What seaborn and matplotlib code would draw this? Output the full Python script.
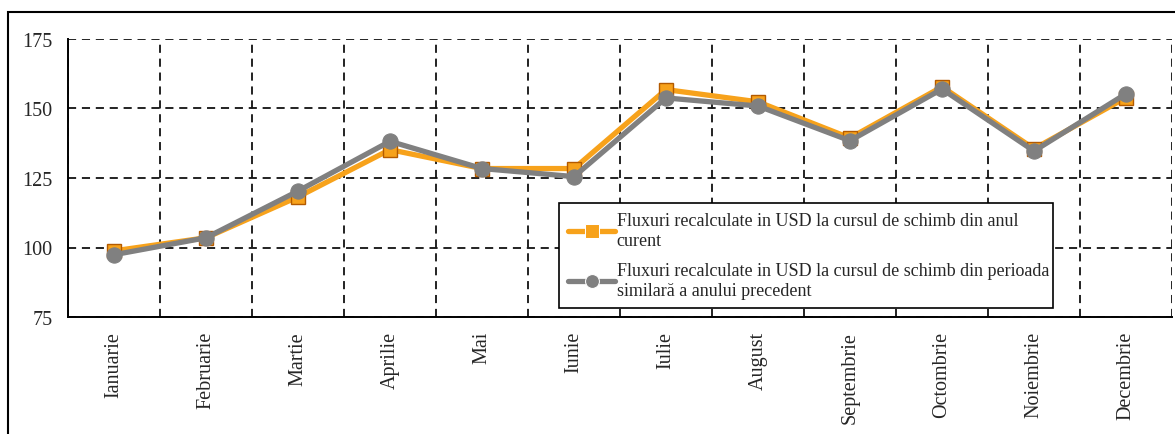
import matplotlib
matplotlib.use("Agg")
import matplotlib.pyplot as plt
import seaborn as sns
import pandas as pd
import numpy as np
from matplotlib.patches import Rectangle

months = ["Ianuarie", "Februarie", "Martie", "Aprilie", "Mai", "Iunie", "Iulie",
          "August", "Septembrie", "Octombrie", "Noiembrie", "Decembrie"]
curent = [98.8, 103.5, 118.2, 135.2, 128.4, 128.4, 156.8, 152.4, 139.4, 157.8, 135.5, 153.9]
precedent = [97.4, 103.5, 120.3, 138.2, 128.4, 125.5, 153.8, 150.9, 138.4, 157.0, 134.7, 155.3]
label_curent = "Fluxuri recalculate in USD la cursul de schimb din anul\ncurent"
label_prec = "Fluxuri recalculate in USD la cursul de schimb din perioada\nsimilară a anului precedent"
yticks = [75, 100, 125, 150, 175]

sns.set_theme(style="white")
plt.rcParams['font.family'] = ['Liberation Serif', 'DejaVu Serif']

df = pd.DataFrame({
    "x": list(range(12)) * 2,
    "v": curent + precedent,
    "s": [label_curent] * 12 + [label_prec] * 12,
})

fig = plt.figure(figsize=(11.75, 4.35), dpi=100)
ax = fig.add_axes([68/1175, 1 - 318/435, 1104/1175, 278/435])

sns.lineplot(data=df, x="x", y="v", hue="s", style="s",
             palette={label_curent: "#F7A21B", label_prec: "#808080"},
             markers={label_curent: "s", label_prec: "o"},
             dashes=False, linewidth=3.8, markersize=10, ax=ax)

lines = ax.get_lines()
lines[0].set_markeredgecolor("#B35A00")
lines[0].set_markeredgewidth(1.0)
lines[0].set_markersize(10)
lines[1].set_markeredgecolor("#808080")
lines[1].set_markersize(11)
lines[1].set_zorder(lines[0].get_zorder() + 1)

ax.set_xlim(-0.5, 11.5)
ax.set_ylim(75, 175)
ax.set_yticks(yticks)
ax.set_yticklabels([str(t) for t in yticks], fontsize=14.5)
ax.set_xticks(range(12))
ax.set_xticklabels(months, rotation=90, fontsize=14.5)
ax.set_xticks(np.arange(-0.5, 12, 1), minor=True)
ax.tick_params(axis="x", which="major", length=0, pad=10)
ax.tick_params(axis="x", which="minor", length=10, direction="inout", width=1.2, color="black")
ax.tick_params(axis="y", which="major", length=10, direction="inout", width=1.2, color="black", pad=6)
ax.set_xlabel("")
ax.set_ylabel("")

ax.grid(False)
dash = (0, (4.5, 3.2))
ax.xaxis.grid(True, which="minor", linestyle=dash, color="#111111", linewidth=1.3)
ax.yaxis.grid(True, which="major", linestyle=dash, color="#111111", linewidth=1.3)
ax.set_axisbelow(True)

for s in ["top", "right"]:
    ax.spines[s].set_visible(False)
for s in ["left", "bottom"]:
    ax.spines[s].set_color("black")
    ax.spines[s].set_linewidth(1.4)

handles, labels = ax.get_legend_handles_labels()
leg = ax.legend(handles, labels, loc="lower left",
                bbox_to_anchor=((559-68)/1104, (318-309)/278, (1053-559)/1104, (309-199)/278),
                mode="expand", fontsize=13.0, frameon=True, fancybox=False,
                edgecolor="black", framealpha=1, borderaxespad=0,
                handlelength=2.6, handletextpad=0.1, borderpad=0.5, labelspacing=0.75)
leg.get_frame().set_linewidth(1.2)
leg.set_zorder(5)

fig.patches.append(Rectangle((8/1175, -0.05), 1.2, 1 - 13/435 + 0.05,
                             transform=fig.transFigure, fill=False,
                             edgecolor="black", linewidth=1.5))

fig.savefig("out.png", dpi=100)
